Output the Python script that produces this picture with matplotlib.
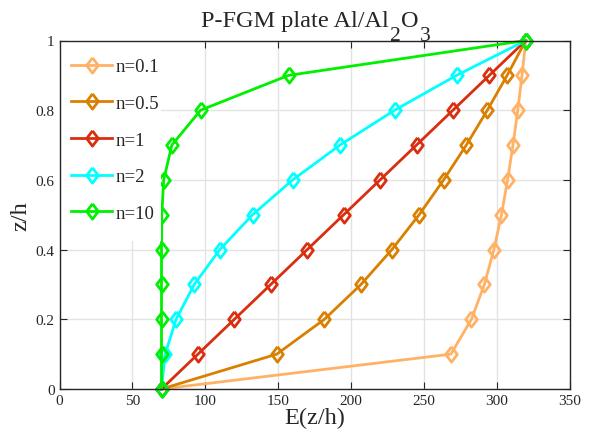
import matplotlib
matplotlib.use('Agg')
import matplotlib.pyplot as plt
from matplotlib.patches import Rectangle

plt.rcParams['font.family'] = ['Liberation Serif', 'DejaVu Serif']
plt.rcParams['text.color'] = '#262626'
plt.rcParams['xtick.color'] = '#262626'
plt.rcParams['ytick.color'] = '#262626'
plt.rcParams['axes.labelcolor'] = '#262626'

# z/h positions
z = [0, 0.1, 0.2, 0.3, 0.4, 0.5, 0.6, 0.7, 0.8, 0.9, 1.0]

# E(z/h) for each power-law index
E_n01 = [70, 268.6, 282.7, 291.6, 298.1, 303.3, 307.5, 311.2, 314.5, 317.4, 320]
E_n05 = [70, 149.1, 181.8, 206.9, 228.1, 246.8, 263.6, 279.2, 293.6, 307.2, 320]
E_n1 = [70, 95, 120, 145, 170, 195, 220, 245, 270, 295, 320]
E_n2 = [70, 72.5, 80, 92.5, 110, 132.5, 160, 192.5, 230, 272.5, 320]
E_n10 = [70, 70, 70, 70, 70, 70.2, 71.5, 77.1, 96.8, 157.2, 320]

labels = ['n=0.1', 'n=0.5', 'n=1', 'n=2', 'n=10']
colors = ['#FFB266', '#D98000', '#D92E0F', '#00FFFF', '#00F000']

diamond = [(0, 1), (0.76, 0), (0, -1), (-0.76, 0), (0, 1)]

W, H = 590, 435
fig = plt.figure(figsize=(5.9, 4.35), dpi=100)
ax = fig.add_axes([59.5 / W, 45 / H, 510 / W, 348.5 / H])

for E, lab, col in zip([E_n01, E_n05, E_n1, E_n2, E_n10], labels, colors):
    ax.plot(E, z, color=col, lw=2, marker=diamond, ms=11,
            markerfacecolor='none', markeredgewidth=2, label=lab,
            clip_on=False, zorder=2)

ax.set_xlim(0, 350)
ax.set_ylim(0, 1)
ax.set_xticks(range(0, 351, 50))
ax.set_yticks([0, 0.2, 0.4, 0.6, 0.8, 1])
ax.set_yticklabels(['0', '0.2', '0.4', '0.6', '0.8', '1'])
ax.grid(True, color='#e3e3e3', lw=1)
ax.set_axisbelow(True)
ax.tick_params(direction='in', top=True, right=True, labelsize=11, length=5)
for s in ax.spines.values():
    s.set_linewidth(1)
    s.set_color('#262626')
    s.set_zorder(5)

ax.set_xlabel('E(z/h)', fontsize=17.5, labelpad=0)
ax.set_ylabel('z/h', fontsize=17.5, labelpad=3)

# white legend box covering the lines behind it
ax.add_patch(Rectangle((0, 0.425), 0.199, 0.575, transform=ax.transAxes,
                       facecolor='white', edgecolor='none', zorder=3))
ax.legend(loc='upper left', bbox_to_anchor=(0.0225, 0.949), fontsize=13.5,
          frameon=False, handlelength=2.2, labelspacing=1.04, borderpad=0,
          borderaxespad=0, handletextpad=0.2)

# title with full-size lowered subscripts
t1 = fig.text(201 / W, 1 - 27.3 / H, 'P-FGM plate Al/Al', fontsize=17.5,
              va='baseline', ha='left')
t2 = fig.text(0, 1 - 40.7 / H, '2', fontsize=15.5, va='baseline', ha='left')
fig.canvas.draw()
r = fig.canvas.get_renderer()
x = t1.get_window_extent(r).x1
t2.set_x(x / W + 1 / W)
x = t2.get_window_extent(r).x1
t3 = fig.text(x / W + 1 / W, 1 - 27.3 / H, 'O', fontsize=17.5,
              va='baseline', ha='left')
x = t3.get_window_extent(r).x1
fig.text(x / W + 1 / W, 1 - 40.7 / H, '3', fontsize=15.5,
         va='baseline', ha='left')

fig.savefig('out.png', dpi=100)
